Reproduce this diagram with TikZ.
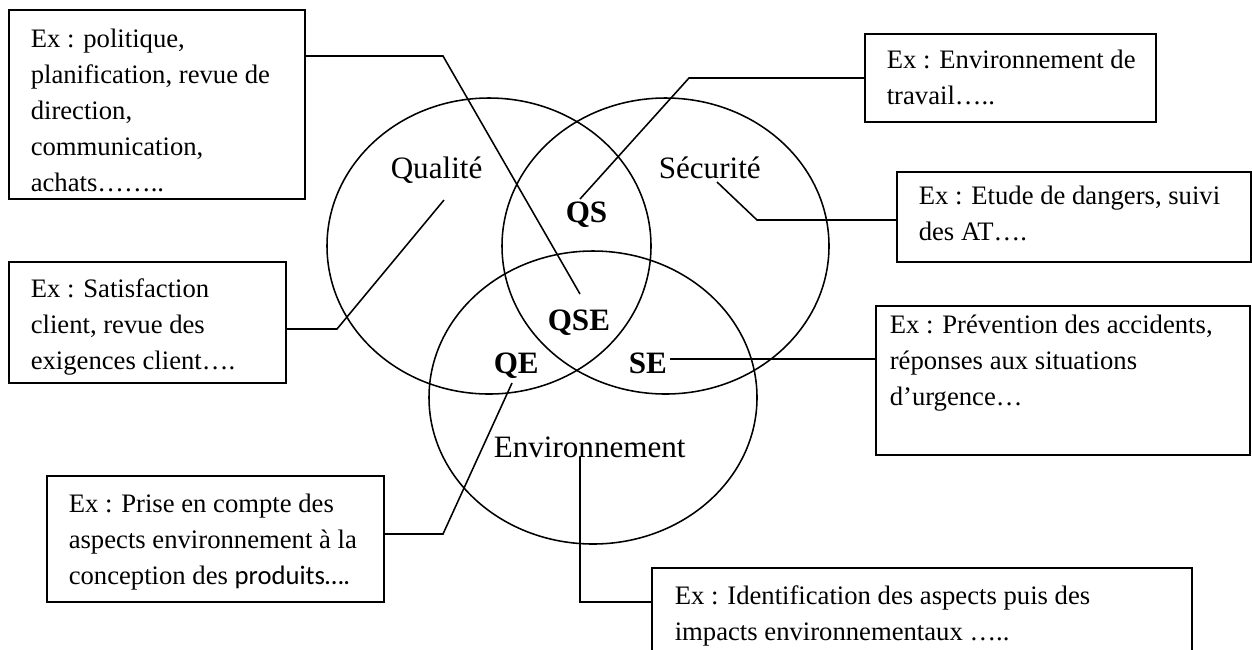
\documentclass[tikz,border=0pt]{standalone}
\usepackage{fontspec}
\setmainfont{Liberation Serif}
\newfontfamily\calibri{Carlito}
\usetikzlibrary{fit}
% stacked lines whose baseline is the baseline of the first line
\newcommand\boxlines[1]{\vtop{\baselineskip=16.2pt\lineskiplimit=-20pt\halign{##\hfil\cr#1\crcr}}}
\begin{document}
\begin{tikzpicture}[x=0.45pt,y=-0.45pt,line width=0.7pt,
  frame/.style={draw,inner sep=0pt},
  boxtext/.style={anchor=base west,inner sep=0pt,font=\fontsize{12}{16.2}\selectfont},
  setname/.style={anchor=base west,inner sep=0pt,font=\fontsize{14}{16}\selectfont},
  zone/.style={anchor=base west,inner sep=0pt,font=\fontsize{14}{16}\selectfont\bfseries},
  link/.style={draw,line width=0.7pt}]
\useasboundingbox (0,0) rectangle (1252,649);
\clip (0,0) rectangle (1252,649);

% the three sets
\draw (489,246) ellipse [x radius=162, y radius=148];
\draw (665.5,246) ellipse [x radius=163.5, y radius=148];
\draw (593,397.5) ellipse [x radius=164, y radius=146.5];

% set names and intersections
\node[setname] (nq) at (390,178) {Qualité};
\node[setname] (ns) at (658,178) {Sécurité};
\node[setname] (ne) at (493,457) {Environnement};
\node[zone] (zqs) at (565,222) {QS};
\node[zone] (zqse) at (547,330) {QSE};
\node[zone] (zqe) at (493,373) {QE};
\node[zone] (zse) at (628,373) {SE};

% example boxes
\node[frame,fit={(9,10) (305,199)}] (b1) {};
\node[boxtext] (t1) at (30,47) {\boxlines{Ex : politique,\cr planification, revue de\cr direction,\cr communication,\cr achats……..}};

\node[frame,fit={(865,34) (1156,122)}] (b2) {};
\node[boxtext] (t2) at (886,68) {\boxlines{Ex : Environnement de\cr travail…..}};

\node[frame,fit={(897,172) (1251,262)}] (b3) {};
\node[boxtext] (t3) at (918,204) {\boxlines{Ex : Etude de dangers, suivi\cr des AT….}};

\node[frame,fit={(9,262) (286,383)}] (b4) {};
\node[boxtext] (t4) at (30,297) {\boxlines{Ex : Satisfaction\cr client, revue des\cr exigences client….}};

\node[frame,fit={(876,306) (1250,455)}] (b5) {};
\node[boxtext] (t5) at (889,333) {\boxlines{Ex : Prévention des accidents,\cr réponses aux situations\cr d’urgence…}};

\node[frame,fit={(47,476) (384,602)}] (b6) {};
\node[boxtext] (t6) at (68,512) {\boxlines{Ex : Prise en compte des\cr aspects environnement à la\cr conception des {\calibri produits….}}};

\node[frame,fit={(652,568) (1192,700)}] (b7) {};
\node[boxtext] (t7) at (674,604) {\boxlines{Ex : Identification des aspects puis des\cr impacts environnementaux …..}};

% connector bends and ends
\coordinate (k1) at (443,56);   \coordinate (e1) at (580,294);
\coordinate (k2) at (689,78);   \coordinate (e2) at (580,199);
\coordinate (k3) at (757,220);  \coordinate (e3) at (717,182);
\coordinate (k4) at (337,329);  \coordinate (e4) at (444,200);
\coordinate (e5) at (670,359);
\coordinate (k6) at (443,534);  \coordinate (e6) at (512,383);
\coordinate (e7) at (580,457);  \coordinate (k7) at (580,602);

\draw[link] (b1.east |- k1) -- (k1) -- (e1);
\draw[link] (b2.west |- k2) -- (k2) -- (e2);
\draw[link] (b3.west |- k3) -- (k3) -- (e3);
\draw[link] (b4.east |- k4) -- (k4) -- (e4);
\draw[link] (b5.west |- e5) -- (e5);
\draw[link] (b6.east |- k6) -- (k6) -- (e6);
\draw[link] (e7) -- (k7) -- (b7.west |- k7);
\end{tikzpicture}
\end{document}
